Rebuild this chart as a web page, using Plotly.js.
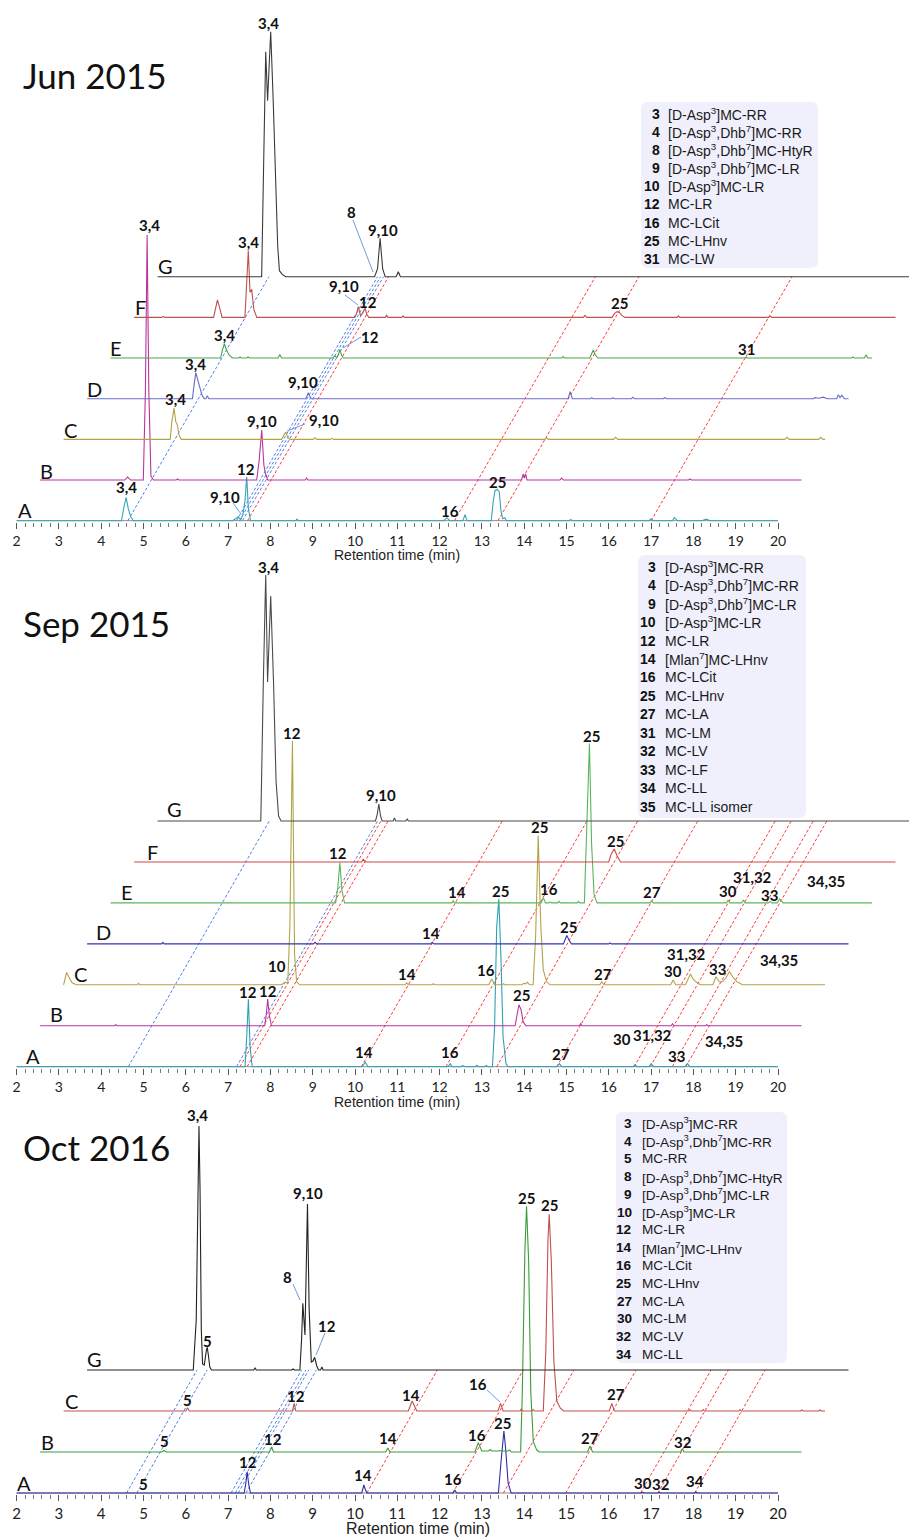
<!DOCTYPE html>
<html>
<head>
<meta charset="utf-8">
<script src="https://cdn.plot.ly/plotly-3.0.1.min.js"></script>
<style>
  html, body { margin: 0; padding: 0; background: #ffffff; }
  #chart { width: 909px; height: 1538px; }
</style>
</head>
<body>
<div id="chart"></div>
<script>
// ---------------------------------------------------------------
// Chromatogram runs: retention time (min) and signal (arbitrary units)
// ---------------------------------------------------------------

// Jun 2015
const jun_A_t = [2, 4.48, 4.54, 4.59, 4.64, 4.70, 4.76, 7.1, 7.18, 7.24, 7.3, 7.35, 7.40, 7.44, 7.48, 7.53, 8.6, 8.63, 8.66, 12.1, 12.17, 12.24, 12.55, 12.6, 12.65, 13.22, 13.27, 13.31, 13.36, 13.41, 13.45, 13.49, 13.54, 13.58, 15.05, 15.1, 15.15, 16.95, 17.0, 17.05, 17.5, 17.55, 17.62, 18.2, 18.3, 18.4, 20];
const jun_A_y = [0, 0, 14, 23.4, 12, 4, 0, 0, 2, 4, 1, 6, 20, 44, 12, 0, 0, 1.5, 0, 0, 3, 0, 0, 6, 0, 0, 20, 30, 31.4, 29, 10, 2, 3, 0, 0, 1, 0, 0, 2, 0, 0, 3, 0, 0, 1.5, 0, 0];
const jun_B_t = [2, 4.0, 4.07, 4.14, 4.44, 4.49, 4.53, 4.57, 4.62, 4.68, 5.22, 5.25, 5.28, 7.12, 7.18, 7.24, 7.29, 7.33, 7.38, 8.27, 8.3, 8.33, 13.38, 13.42, 13.45, 13.48, 13.51, 13.55, 14.29, 14.33, 14.37, 17.33, 17.36, 17.4, 20];
const jun_B_y = [0, 0, 3, 0, 0, 90, 245, 90, 4, 0, 0, 1, 0, 0, 20, 50, 15, 6, 0, 0, 2, 0, 0, 6, 2, 6, 0, 0, 0, 2, 0, 0, 1, 0, 0];
const jun_C_t = [2, 4.52, 4.56, 4.61, 4.65, 4.69, 4.73, 4.78, 7.15, 7.2, 7.25, 7.3, 7.35, 7.9, 7.94, 7.98, 8.3, 8.34, 8.38, 13.38, 13.42, 13.46, 15.0, 15.05, 15.1, 19.05, 19.1, 19.15, 19.85, 19.9, 19.95, 20];
const jun_C_y = [0, 0, 18, 31.3, 18, 14, 4, 0, 0, 3, 7.3, 2, 0, 0, 1.5, 0, 0, 1, 0, 0, 1.5, 0, 0, 2, 0, 0, 2, 0, 0, 2, 0, 0];
const jun_D_t = [2, 4.49, 4.53, 4.57, 4.62, 4.67, 4.72, 4.77, 4.81, 4.84, 4.88, 7.17, 7.23, 7.29, 13.37, 13.42, 13.47, 13.9, 13.93, 13.96, 14.4, 14.43, 14.46, 14.87, 14.9, 14.94, 15.62, 15.66, 15.7, 19.17, 19.2, 19.3, 19.4, 19.5, 19.72, 19.76, 19.8, 19.84, 19.9, 20];
const jun_D_y = [0, 0, 14, 26, 18, 10, 3, 0, 0, 3, 0, 0, 6, 0, 0, 7, 0, 0, 1, 0, 0, 1, 0, 0, 1.5, 0, 0, 1, 0, 0, 1, 0.5, 1.5, 0, 0, 4, 1, 3.5, 0, 0];
const jun_E_t = [2, 4.6, 4.65, 4.69, 4.74, 4.8, 4.88, 5.03, 5.06, 5.09, 5.22, 5.25, 5.28, 5.96, 6.0, 6.04, 7.25, 7.3, 7.35, 7.39, 7.42, 7.46, 7.5, 12.67, 12.7, 12.73, 13.33, 13.38, 13.41, 13.46, 13.52, 17.0, 17.02, 17.05, 19.52, 19.55, 19.58, 19.82, 19.86, 19.9, 20];
const jun_E_y = [0, 0, 9, 14.3, 8, 3, 0, 0, 1, 0, 0, 1, 0, 0, 3.5, 0, 0, 2, 0.5, 4, 8.7, 3, 0, 0, 1.5, 0, 0, 6, 8, 3, 0, 0, 1, 0, 0, 1, 0, 0, 3, 0, 0];
const jun_F_t = [2, 2.66, 2.69, 2.72, 3.88, 3.93, 3.97, 4.02, 4.08, 4.62, 4.67, 4.70, 4.74, 4.78, 4.83, 4.9, 7.22, 7.26, 7.3, 7.35, 7.4, 7.46, 7.5, 7.55, 7.94, 7.97, 8.0, 8.33, 8.36, 8.39, 12.62, 12.66, 12.7, 13.3, 13.36, 13.42, 13.47, 13.53, 13.6, 14.84, 14.87, 14.9, 17.0, 17.04, 17.08, 20];
const jun_F_y = [0, 0, 1, 0, 0, 12, 17.4, 10, 0, 0, 35, 66.7, 25, 28, 8, 0, 0, 4, 10.7, 2, 4, 9.3, 3, 0, 0, 2, 0, 0, 1.5, 0, 0, 2, 0, 0, 4, 5.7, 5, 2, 0, 0, 1.5, 0, 0, 1, 0, 0];
const jun_G_t = [2, 4.46, 4.51, 4.556, 4.60, 4.674, 4.73, 4.78, 4.84, 4.88, 4.95, 5.03, 7.13, 7.2, 7.26, 7.32, 7.38, 7.64, 7.69, 7.74, 20];
const jun_G_y = [0, 0, 120, 225, 176, 245, 180, 110, 30, 6, 2, 0, 0, 8, 38.4, 8, 0, 0, 5, 0, 0];

// Sep 2015
const sep_A_t = [2, 7.40, 7.44, 7.48, 7.52, 7.57, 10.17, 10.24, 10.31, 12.2, 12.25, 12.3, 12.5, 12.55, 12.6, 12.85, 12.88, 12.92, 13.05, 13.1, 13.15, 13.25, 13.30, 13.35, 13.40, 13.45, 13.50, 13.57, 13.62, 14.77, 14.83, 14.89, 16.58, 16.62, 16.66, 16.95, 17.0, 17.06, 17.8, 17.86, 17.92, 20];
const sep_A_y = [0, 0, 30, 67.4, 20, 0, 0, 4.4, 0, 0, 3, 0, 0, 1, 0, 0, 1.5, 0, 0, 1, 0, 0, 40, 140, 167.7, 110, 30, 3, 0, 0, 3, 0, 0, 2, 0, 0, 3, 0, 0, 3, 0, 0];
const sep_B_t = [2, 3.76, 3.79, 3.82, 7.31, 7.35, 7.38, 7.42, 7.47, 13.23, 13.28, 13.32, 13.37, 13.42, 13.48, 14.75, 14.78, 14.81, 16.92, 16.95, 16.98, 17.73, 17.76, 17.79, 20];
const sep_B_y = [0, 0, 1, 0, 0, 12, 26.7, 10, 0, 0, 12, 21, 16, 4, 0, 0, 2, 0, 0, 2, 0, 0, 1, 0, 0];
const sep_C_t = [2, 2.04, 2.07, 2.12, 2.2, 2.3, 3.74, 3.77, 3.8, 7.15, 7.23, 7.3, 7.35, 7.41, 7.46, 7.51, 7.58, 10.07, 10.11, 10.15, 10.71, 10.74, 10.77, 12.05, 12.12, 12.19, 12.37, 12.4, 12.43, 12.84, 12.87, 12.92, 12.96, 13.02, 13.1, 13.16, 13.22, 13.28, 13.34, 13.42, 13.5, 14.68, 14.72, 14.77, 16.35, 16.41, 16.47, 16.7, 16.77, 16.82, 16.88, 16.95, 17.05, 17.35, 17.42, 17.5, 17.58, 17.66, 17.74, 17.82, 17.92, 18.05, 20];
const sep_C_y = [0, 6, 12.3, 8, 2, 0, 0, 1.5, 0, 0, 2.5, 1.5, 60, 244, 30, 3, 0, 0, 2, 0, 0, 1, 0, 0, 5.7, 0, 0, 1, 0, 0, 1.5, 1, 2.5, 0, 0, 50, 149, 60, 15, 3, 0, 0, 3, 0, 0, 4.7, 0, 0, 7, 10.7, 6, 3, 0, 0, 8, 3, 3, 7, 13.3, 8, 3, 0, 0];
const sep_D_t = [2, 3.76, 3.79, 3.82, 7.35, 7.39, 7.43, 10.12, 10.16, 10.2, 13.26, 13.3, 13.34, 13.39, 13.45, 14.33, 14.36, 14.39, 20];
const sep_D_y = [0, 0, 1.5, 0, 0, 1.5, 0, 0, 1.5, 0, 0, 5, 8.3, 4, 0, 0, 1, 0, 0];
const sep_E_t = [2, 7.32, 7.37, 7.42, 7.47, 7.53, 10.07, 10.1, 10.13, 12.18, 12.23, 12.28, 12.36, 12.39, 12.42, 12.57, 12.6, 12.63, 13.03, 13.06, 13.09, 13.2, 13.26, 13.32, 13.37, 13.43, 13.5, 14.75, 14.79, 14.83, 16.56, 16.6, 16.64, 16.92, 16.96, 17.0, 17.55, 17.59, 17.63, 17.76, 17.82, 17.9, 20];
const sep_E_y = [0, 0, 15, 40.4, 12, 0, 0, 2, 0, 0, 5.3, 0, 0, 1, 0, 0, 1.5, 0, 0, 1.5, 0, 0, 80, 159.4, 60, 8, 0, 0, 2, 0, 0, 3, 0, 0, 3, 0, 0, 1.5, 0, 0, 4, 0, 0];
const sep_F_t = [2, 7.38, 7.42, 7.46, 13.22, 13.28, 13.35, 13.42, 13.5, 20];
const sep_F_y = [0, 0, 3, 0, 0, 8, 13, 6, 0, 0];
const sep_G_t = [2, 4.44, 4.5, 4.556, 4.60, 4.674, 4.74, 4.8, 4.86, 4.92, 7.15, 7.19, 7.23, 7.27, 7.31, 7.57, 7.6, 7.63, 7.87, 7.9, 7.93, 20];
const sep_G_y = [0, 0, 140, 246, 139, 225, 140, 40, 5, 0, 0, 6, 17, 5, 0, 0, 3, 0, 0, 2, 0, 0];

// Oct 2016
const oct_A_t = [2, 4.93, 4.96, 4.99, 7.38, 7.42, 7.45, 7.49, 7.53, 10.16, 10.19, 10.21, 10.24, 10.28, 12.32, 12.36, 12.4, 13.39, 13.45, 13.5, 13.52, 13.56, 13.62, 13.69, 16.77, 16.8, 16.83, 17.16, 17.19, 17.22, 18.03, 18.06, 18.09, 20];
const oct_A_y = [0, 0, 0.5, 0, 0, 10, 21.3, 8, 0, 0, 6, 8, 4, 0, 0, 3, 0, 0, 30, 60, 62, 45, 10, 0, 0, 0.8, 0, 0, 0.8, 0, 0, 1, 0, 0];
const oct_B_t = [2, 4.88, 4.93, 4.98, 7.42, 7.47, 7.52, 10.17, 10.22, 10.27, 12.28, 12.36, 12.44, 12.6, 12.64, 12.68, 12.84, 12.87, 12.9, 13.06, 13.1, 13.14, 13.36, 13.40, 13.46, 13.50, 13.55, 13.60, 13.66, 13.74, 13.8, 14.94, 15.0, 15.06, 17.14, 17.18, 17.22, 20];
const oct_B_y = [0, 0, 1.5, 0, 0, 5, 0, 0, 4, 0, 0, 9.4, 1, 1, 2.5, 1, 1, 1.5, 1, 1, 2, 0, 0, 60, 200, 245.7, 190, 60, 10, 2, 0, 0, 6, 0, 0, 3.3, 0, 0];
const oct_C_t = [2, 4.89, 4.93, 4.97, 7.41, 7.45, 7.49, 10.15, 10.24, 10.35, 12.27, 12.33, 12.39, 12.79, 12.82, 12.85, 13.07, 13.1, 13.13, 13.34, 13.40, 13.45, 13.48, 13.53, 13.59, 13.66, 13.74, 13.82, 14.9, 14.96, 15.02, 16.78, 16.81, 16.84, 17.09, 17.12, 17.15, 17.96, 17.99, 18.02, 19.42, 19.45, 19.48, 19.85, 19.88, 19.91, 20];
const oct_C_y = [0, 0, 3.3, 0, 0, 7.7, 0, 0, 10, 0, 0, 7.7, 0, 0, 2, 0, 0, 1.5, 0, 0, 60, 170, 196.7, 150, 50, 10, 3, 0, 0, 7.7, 0, 0, 1, 0, 0, 1.5, 0, 0, 1.5, 0, 0, 1, 0, 0, 1, 0, 0];
const oct_G_t = [2, 4.51, 4.58, 4.62, 4.645, 4.67, 4.70, 4.73, 4.77, 4.82, 4.84, 4.87, 4.9, 4.94, 5.94, 5.97, 6.0, 6.84, 6.87, 6.9, 7.03, 7.07, 7.10, 7.15, 7.18, 7.21, 7.25, 7.30, 7.34, 7.38, 7.43, 7.47, 7.52, 7.55, 7.58, 20];
const oct_G_y = [0, 0, 50, 200, 244, 180, 40, 6, 5, 20, 22.7, 14, 3, 0, 0, 2, 0, 0, 1, 0, 0, 30, 66.7, 35, 100, 166, 60, 8, 9, 12.7, 4, 0, 0, 3, 0, 0];

// Retention times of the compound guide lines (min)
const jun_guides_blue = [4.63, 7.2, 7.27, 7.34];
const jun_guides_red  = [7.46, 12.35, 13.38, 17.0];
const sep_guides_blue = [4.64, 7.2];
const sep_guides_red  = [7.28, 7.45, 10.15, 12.15, 13.35, 14.77, 16.6, 16.98, 17.5, 17.82];
const oct_guides_blue = [4.6, 4.84, 7.07, 7.17, 7.24, 7.42];
const oct_guides_red  = [10.28, 12.31, 13.51, 14.98, 16.75, 17.16, 18.03];

// Compound keys
const jun_ids   = ['3', '4', '8', '9', '10', '12', '16', '25', '31'];
const jun_names = ['[D-Asp<sup>3</sup>]MC-RR', '[D-Asp<sup>3</sup>,Dhb<sup>7</sup>]MC-RR', '[D-Asp<sup>3</sup>,Dhb<sup>7</sup>]MC-HtyR', '[D-Asp<sup>3</sup>,Dhb<sup>7</sup>]MC-LR', '[D-Asp<sup>3</sup>]MC-LR', 'MC-LR', 'MC-LCit', 'MC-LHnv', 'MC-LW'];
const sep_ids   = ['3', '4', '9', '10', '12', '14', '16', '25', '27', '31', '32', '33', '34', '35'];
const sep_names = ['[D-Asp<sup>3</sup>]MC-RR', '[D-Asp<sup>3</sup>,Dhb<sup>7</sup>]MC-RR', '[D-Asp<sup>3</sup>,Dhb<sup>7</sup>]MC-LR', '[D-Asp<sup>3</sup>]MC-LR', 'MC-LR', '[Mlan<sup>7</sup>]MC-LHnv', 'MC-LCit', 'MC-LHnv', 'MC-LA', 'MC-LM', 'MC-LV', 'MC-LF', 'MC-LL', 'MC-LL isomer'];
const oct_ids   = ['3', '4', '5', '8', '9', '10', '12', '14', '16', '25', '27', '30', '32', '34'];
const oct_names = ['[D-Asp<sup>3</sup>]MC-RR', '[D-Asp<sup>3</sup>,Dhb<sup>7</sup>]MC-RR', 'MC-RR', '[D-Asp<sup>3</sup>,Dhb<sup>7</sup>]MC-HtyR', '[D-Asp<sup>3</sup>,Dhb<sup>7</sup>]MC-LR', '[D-Asp<sup>3</sup>]MC-LR', 'MC-LR', '[Mlan<sup>7</sup>]MC-LHnv', 'MC-LCit', 'MC-LHnv', 'MC-LA', 'MC-LM', 'MC-LV', 'MC-LL'];

const panel_titles = ['Jun 2015', 'Sep 2015', 'Oct 2016'];
const axis_ticks = [2, 3, 4, 5, 6, 7, 8, 9, 10, 11, 12, 13, 14, 15, 16, 17, 18, 19, 20];

// ---------------------------------------------------------------
// Page geometry (pixels) and stacking of the runs
// ---------------------------------------------------------------
const W = 909, H = 1538;
const PX_PER_MIN = 42.3;
const X_AT_2MIN = 16.6;
const STEP_MIN = 23.5 / PX_PER_MIN;   // each run is shifted right by this much time

const panels = [
  { base: 520.7,  top: 8,    step: 40.67, xa: 'x',  ya: 'y'  },
  { base: 1066.7, top: 560,  step: 40.95, xa: 'x2', ya: 'y2' },
  { base: 1493,   top: 1105, step: 41.0,  xa: 'x3', ya: 'y3' }
];

const traces = [];
const shapes = [];
const annotations = [];

const PX = v => v / W;
const PY = v => 1 - v / H;

function addGuide(p, t, n, color) {
  const P = panels[p];
  traces.push({
    type: 'scatter', mode: 'lines',
    x: [t, t + n * STEP_MIN], y: [0, n * P.step],
    xaxis: P.xa, yaxis: P.ya,
    line: { color: color, width: 1, dash: '3px,2px' },
    hoverinfo: 'skip', showlegend: false
  });
}

function addRun(p, k, t, y, color) {
  const P = panels[p];
  traces.push({
    type: 'scatter', mode: 'lines',
    x: t.map(v => v + k * STEP_MIN),
    y: y.map(v => v + k * P.step),
    xaxis: P.xa, yaxis: P.ya,
    line: { color: color, width: 1.1 },
    hoverinfo: 'skip', showlegend: false
  });
}

// guide lines first so the chromatograms sit on top
const BLUE = '#4f7fe6', RED = '#ff3a3a';
jun_guides_blue.forEach(t => addGuide(0, t, 6, BLUE));
jun_guides_red.forEach(t => addGuide(0, t, 6, RED));
sep_guides_blue.forEach(t => addGuide(1, t, 6, BLUE));
sep_guides_red.forEach(t => addGuide(1, t, 6, RED));
oct_guides_blue.forEach(t => addGuide(2, t, 3, BLUE));
oct_guides_red.forEach(t => addGuide(2, t, 3, RED));

// runs, bottom to top
addRun(0, 0, jun_A_t, jun_A_y, '#35a6b8');
addRun(0, 1, jun_B_t, jun_B_y, '#b8359f');
addRun(0, 2, jun_C_t, jun_C_y, '#b3a449');
addRun(0, 3, jun_D_t, jun_D_y, '#6c6cca');
addRun(0, 4, jun_E_t, jun_E_y, '#4aa64a');
addRun(0, 5, jun_F_t, jun_F_y, '#c0504d');
addRun(0, 6, jun_G_t, jun_G_y, '#3a3a3a');

addRun(1, 0, sep_A_t, sep_A_y, '#2fa0b2');
addRun(1, 1, sep_B_t, sep_B_y, '#b8359f');
addRun(1, 2, sep_C_t, sep_C_y, '#b3a449');
addRun(1, 3, sep_D_t, sep_D_y, '#3535b2');
addRun(1, 4, sep_E_t, sep_E_y, '#5cb55c');
addRun(1, 5, sep_F_t, sep_F_y, '#d04848');
addRun(1, 6, sep_G_t, sep_G_y, '#4a4a4a');

addRun(2, 0, oct_A_t, oct_A_y, '#2e2ea8');
addRun(2, 1, oct_B_t, oct_B_y, '#3a9c3a');
addRun(2, 2, oct_C_t, oct_C_y, '#c0504d');
addRun(2, 3, oct_G_t, oct_G_y, '#222222');

// axis base line under the A runs
panels.forEach(P => {
  shapes.push({ type: 'line', xref: P.xa, yref: P.ya, x0: 2, x1: 20, y0: 0, y1: 0,
    line: { color: '#8a8a8a', width: 1 }, layer: 'below' });
});

// ---------------------------------------------------------------
// Text: titles, run letters, peak labels, leader lines, keys
// ---------------------------------------------------------------
const LABEL_FONT = { family: 'Lato, "Liberation Sans", sans-serif', size: 15, color: '#111', weight: 700 };
const LETTER_FONT = { family: 'Lato, "Liberation Sans", sans-serif', size: 20, color: '#111' };
const TITLE_FONT = { family: 'Lato, "Liberation Sans", sans-serif', size: 35, color: '#111' };

function note(text, px, py, font, xanchor) {
  annotations.push({
    text: text, x: PX(px), y: PY(py), xref: 'paper', yref: 'paper',
    showarrow: false, xanchor: xanchor || 'center', yanchor: 'middle', font: font
  });
}
function leader(x0, y0, x1, y1) {
  shapes.push({ type: 'line', xref: 'paper', yref: 'paper',
    x0: PX(x0), y0: PY(y0), x1: PX(x1), y1: PY(y1),
    line: { color: '#6f9ddb', width: 1 } });
}

// panel titles
note(panel_titles[0], 21, 75, TITLE_FONT, 'left');
note(panel_titles[1], 21, 623, TITLE_FONT, 'left');
note(panel_titles[2], 21, 1147, TITLE_FONT, 'left');

// run letters
const runLetters = [
  ['G', 165, 266], ['F', 140, 307], ['E', 116, 348], ['D', 94, 389], ['C', 70, 430], ['B', 46, 471], ['A', 25, 510],
  ['G', 174, 809], ['F', 152, 852], ['E', 127, 892], ['D', 103, 932], ['C', 80, 974], ['B', 56, 1014], ['A', 33, 1056],
  ['G', 94, 1359], ['C', 71, 1401], ['B', 47, 1442], ['A', 24, 1483]
];
runLetters.forEach(l => note(l[0], l[1], l[2], LETTER_FONT));

// peak labels
const peakLabels = [
  // Jun 2015
  ['3,4', 268, 23], ['8', 351, 212], ['9,10', 383, 230], ['3,4', 149, 225], ['3,4', 248, 242],
  ['9,10', 344, 286], ['12', 368, 302], ['25', 619, 303], ['3,4', 224, 335], ['12', 370, 337],
  ['31', 746, 349], ['3,4', 195, 364], ['9,10', 303, 382], ['3,4', 175, 399], ['9,10', 262, 421],
  ['9,10', 324, 420], ['12', 246, 469], ['9,10', 225, 497], ['3,4', 126, 487], ['16', 450, 511], ['25', 498, 482],
  // Sep 2015
  ['3,4', 268, 567], ['12', 292, 733], ['9,10', 381, 795], ['25', 591, 736], ['25', 539, 827],
  ['25', 615, 841], ['12', 338, 853], ['14', 457, 892], ['16', 549, 889], ['25', 500, 891],
  ['27', 652, 892], ['30', 728, 891], ['31,32', 752, 877], ['33', 769, 895], ['34,35', 826, 881],
  ['14', 431, 933], ['25', 568, 927], ['10', 277, 966], ['14', 407, 974], ['16', 486, 970],
  ['27', 603, 974], ['30', 673, 971], ['31,32', 686, 954], ['33', 717, 969], ['34,35', 779, 960],
  ['12', 268, 991], ['25', 521, 995], ['12', 248, 992], ['14', 364, 1052], ['16', 450, 1052],
  ['27', 561, 1054], ['30', 622, 1039], ['31,32', 652, 1035], ['33', 676, 1056], ['34,35', 724, 1041],
  // Oct 2016
  ['3,4', 197, 1115], ['9,10', 308, 1193], ['8', 287, 1277], ['12', 327, 1326], ['5', 207, 1341],
  ['25', 526, 1198], ['25', 549, 1205], ['5', 187, 1400], ['12', 296, 1396], ['14', 411, 1395],
  ['16', 478, 1384], ['27', 616, 1394], ['5', 164, 1441], ['12', 273, 1439], ['14', 388, 1438],
  ['16', 477, 1435], ['25', 503, 1423], ['27', 590, 1438], ['32', 683, 1442], ['12', 248, 1462],
  ['14', 363, 1475], ['16', 453, 1479], ['5', 143, 1484], ['30', 643, 1483], ['32', 661, 1484], ['34', 695, 1481]
];
peakLabels.forEach(l => note(l[0], l[1], l[2], LABEL_FONT));

// leader lines from labels to their peaks
leader(353, 220, 373, 272);
leader(345, 295, 358, 305);
leader(361, 337, 343, 348);
leader(305, 424, 287, 431);
leader(233, 503, 241, 514);
leader(293, 1284, 300, 1300);
leader(325, 1333, 316, 1355);
leader(487, 1390, 500, 1402);

// axis titles
const AXT = { family: '"Liberation Sans", Arial, sans-serif', size: 14, color: '#222' };
note('Retention time (min)', 397, 555, AXT);
note('Retention time (min)', 397, 1102, AXT);
note('Retention time (min)', 418, 1528, Object.assign({}, AXT, { size: 16 }));

// compound keys
function roundBox(x0, y0, x1, y1, r) {
  const X = v => PX(v).toFixed(5), Y = v => PY(v).toFixed(5);
  return 'M' + X(x0 + r) + ',' + Y(y0) + ' L' + X(x1 - r) + ',' + Y(y0) +
    ' Q' + X(x1) + ',' + Y(y0) + ' ' + X(x1) + ',' + Y(y0 + r) +
    ' L' + X(x1) + ',' + Y(y1 - r) + ' Q' + X(x1) + ',' + Y(y1) + ' ' + X(x1 - r) + ',' + Y(y1) +
    ' L' + X(x0 + r) + ',' + Y(y1) + ' Q' + X(x0) + ',' + Y(y1) + ' ' + X(x0) + ',' + Y(y1 - r) +
    ' L' + X(x0) + ',' + Y(y0 + r) + ' Q' + X(x0) + ',' + Y(y0) + ' ' + X(x0 + r) + ',' + Y(y0) + ' Z';
}
function keyBox(ids, names, box, firstRow, rowStep, numRight, nameLeft, size) {
  shapes.push({ type: 'path', xref: 'paper', yref: 'paper',
    path: roundBox(box[0], box[1], box[2], box[3], 7),
    fillcolor: '#f0f0fc', line: { width: 0 }, layer: 'below' });
  ids.forEach((id, i) => {
    const yy = firstRow + i * rowStep;
    note(id, numRight, yy, { family: '"Liberation Sans", Arial, sans-serif', size: size, color: '#111', weight: 700 }, 'right');
    note(names[i], nameLeft, yy, { family: '"Liberation Sans", Arial, sans-serif', size: size, color: '#1a1a1a' }, 'left');
  });
}
keyBox(jun_ids, jun_names, [641, 102, 818, 268], 114, 18.1, 662, 666, 14);
keyBox(sep_ids, sep_names, [638, 555, 806, 818], 566.7, 18.46, 658, 663, 14);
keyBox(oct_ids, oct_names, [616, 1112, 787, 1363], 1123.3, 17.77, 634, 640, 13.6);

// ---------------------------------------------------------------
// Axes
// ---------------------------------------------------------------
const minorTicks = [];
for (let i = 0; i <= 90; i++) {
  const v = +(2 + i * 0.2).toFixed(2);
  if (Math.abs(v - Math.round(v)) > 1e-6) minorTicks.push(v);
}
const xRange = [2 - X_AT_2MIN / PX_PER_MIN, 2 + (W - X_AT_2MIN) / PX_PER_MIN];

function xAxis(anchor, size) {
  return {
    domain: [0, 1], range: xRange, anchor: anchor,
    tickmode: 'array', tickvals: axis_ticks, ticktext: axis_ticks.map(String),
    ticks: 'outside', ticklen: 6, tickwidth: 1, tickcolor: '#555',
    minor: { tickmode: 'array', tickvals: minorTicks, ticks: 'outside', ticklen: 4, tickwidth: 1, tickcolor: '#777' },
    showgrid: false, zeroline: false, showline: false,
    tickfont: { family: 'Lato, "Liberation Sans", sans-serif', size: size, color: '#222' },
    fixedrange: true
  };
}
function yAxis(P, anchor) {
  return {
    domain: [1 - (P.base + 1) / H, 1 - P.top / H],
    range: [-1, P.base - P.top], anchor: anchor,
    visible: false, fixedrange: true
  };
}

const layout = {
  width: W, height: H,
  margin: { l: 0, r: 0, t: 0, b: 0 },
  paper_bgcolor: '#ffffff', plot_bgcolor: 'rgba(0,0,0,0)',
  showlegend: false,
  xaxis: xAxis('y', 14), yaxis: yAxis(panels[0], 'x'),
  xaxis2: xAxis('y2', 14), yaxis2: yAxis(panels[1], 'x2'),
  xaxis3: xAxis('y3', 15), yaxis3: yAxis(panels[2], 'x3'),
  shapes: shapes,
  annotations: annotations
};

Plotly.newPlot('chart', traces, layout, { staticPlot: true, displayModeBar: false });
</script>
</body>
</html>
